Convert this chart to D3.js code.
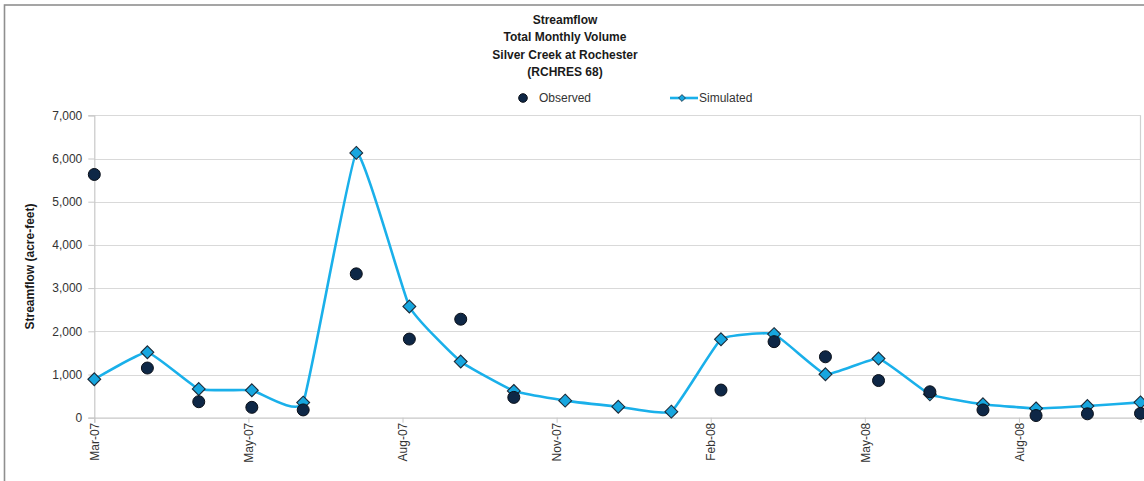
<!DOCTYPE html>
<html>
<head>
<meta charset="utf-8">
<script src="https://cdn.jsdelivr.net/npm/d3@7"></script>
<style>
  html, body { margin: 0; padding: 0; background: #fff; }
  svg { display: block; font-family: "Liberation Sans", Arial, sans-serif; }
</style>
</head>
<body>
<div id="chart"></div>
<script>
// Streamflow, total monthly volume — observed vs simulated
const titleLines = ["Streamflow", "Total Monthly Volume", "Silver Creek at Rochester", "(RCHRES 68)"];

const months = [
    "2007-03-01", "2007-04-01", "2007-05-01", "2007-06-01", "2007-07-01", "2007-08-01", "2007-09-01",
    "2007-10-01", "2007-11-01", "2007-12-01", "2008-01-01", "2008-02-01", "2008-03-01", "2008-04-01",
    "2008-05-01", "2008-06-01", "2008-07-01", "2008-08-01", "2008-09-01", "2008-10-01", "2008-11-01"
];
const observed = [
    5630, 1150, 370, 240, 180, 3330, 1820, 2280, 470, null, null, null, 640, 1760,
    1410, 860, 600, 180, 50, 90, 100
];
const simulated = [
    890, 1515, 665, 635, 350, 6130, 2575, 1300, 620, 395, 255, 140, 1815, 1935,
    1005, 1370, 540, 310, 215, 270, 355
];
// Excel date axis: major unit of 90 days from the first month
const xTickDates = ["2007-03-01", "2007-05-30", "2007-08-28", "2007-11-26", "2008-02-24", "2008-05-24", "2008-08-22"];
const yTicks = [0, 1000, 2000, 3000, 4000, 5000, 6000, 7000];

const W = 1144, H = 481;
const plot = { left: 94.3, right: 1140.5, top: 115.3, bottom: 417.7 };

const parse = d3.timeParse("%Y-%m-%d");
const rows = months.map((m, i) => ({ date: parse(m), obs: observed[i], sim: simulated[i] }));

const svg = d3.select("#chart").append("svg").attr("width", W).attr("height", H);

// outer chart border (clipped at right/bottom like the screenshot)
svg.append("rect")
    .attr("x", 4.5).attr("y", 5).attr("width", 1300).attr("height", 700)
    .attr("fill", "#fff").attr("stroke", "#8f8f8f").attr("stroke-width", 1.6);

const x = d3.scaleTime()
    .domain(d3.extent(rows, d => d.date))
    .range([plot.left, plot.right]);
const y = d3.scaleLinear().domain([0, 7000]).range([plot.bottom, plot.top]);

// ── Title ────────────────────────────────────────────────────────────────
svg.append("g").selectAll("text").data(titleLines).join("text")
    .attr("x", 565).attr("y", (d, i) => 24 + i * 17.3)
    .attr("text-anchor", "middle")
    .attr("font-size", 12).attr("font-weight", "bold").attr("fill", "#1a1a1a")
    .text(d => d);

// ── Gridlines ────────────────────────────────────────────────────────────
svg.append("g").selectAll("line").data(yTicks.filter(v => v > 0)).join("line")
    .attr("x1", plot.left).attr("x2", plot.right)
    .attr("y1", d => Math.round(y(d)) + 0.5).attr("y2", d => Math.round(y(d)) + 0.5)
    .attr("stroke", "#d9d9d9").attr("stroke-width", 1.2);

// right edge of plot area
svg.append("line")
    .attr("x1", plot.right).attr("x2", plot.right)
    .attr("y1", y(7000)).attr("y2", y(0))
    .attr("stroke", "#d0d0d0").attr("stroke-width", 1.2);

// ── Y axis ───────────────────────────────────────────────────────────────
const yAxis = svg.append("g")
    .attr("transform", `translate(${plot.left},0)`)
    .call(d3.axisLeft(y).tickValues(yTicks).tickSize(6).tickPadding(6).tickFormat(d3.format(",")));
yAxis.select(".domain").attr("stroke", "#c8c8c8").attr("stroke-width", 1.2);
yAxis.selectAll(".tick line").attr("stroke", "#c8c8c8");
yAxis.selectAll(".tick text").attr("font-size", 12).attr("fill", "#333")
    .attr("font-family", "Liberation Sans, Arial, sans-serif");

svg.append("text")
    .attr("transform", `translate(34,${(plot.top + plot.bottom) / 2}) rotate(-90)`)
    .attr("text-anchor", "middle")
    .attr("font-size", 12).attr("font-weight", "bold").attr("fill", "#1a1a1a")
    .text("Streamflow (acre-feet)");

// ── X axis ───────────────────────────────────────────────────────────────
const xAxis = svg.append("g")
    .attr("transform", `translate(0,${plot.bottom})`)
    .call(d3.axisBottom(x).tickValues(xTickDates.map(parse)).tickSize(5).tickFormat(d3.timeFormat("%b-%y")));
xAxis.select(".domain").attr("stroke", "#c8c8c8").attr("stroke-width", 1.2);
xAxis.selectAll(".tick line").attr("stroke", "#c8c8c8");
xAxis.selectAll(".tick text")
    .attr("font-size", 12).attr("fill", "#333")
    .attr("font-family", "Liberation Sans, Arial, sans-serif")
    .attr("text-anchor", "end")
    .attr("dy", "0.35em")
    .attr("transform", "translate(0,-3) rotate(-90)")
    .attr("x", -8).attr("y", 0);

// ── Simulated line + diamonds ────────────────────────────────────────────
// Excel "smoothed line": gentle bends, no big overshoot
const line = d3.line()
    .x(d => x(d.date)).y(d => y(d.sim))
    .curve(d3.curveCardinal.tension(0.65));

svg.append("path").datum(rows)
    .attr("fill", "none").attr("stroke", "#1ab0ea").attr("stroke-width", 2.6)
    .attr("d", line);

const diamond = d3.symbol().type(d3.symbolDiamond2).size(105);
svg.append("g").selectAll("path").data(rows).join("path")
    .attr("transform", d => `translate(${x(d.date)},${y(d.sim)})`)
    .attr("d", diamond)
    .attr("fill", "#17a6df").attr("stroke", "#1c2a38").attr("stroke-width", 1.1);

// ── Observed dots ────────────────────────────────────────────────────────
svg.append("g").selectAll("circle").data(rows.filter(d => d.obs != null)).join("circle")
    .attr("cx", d => x(d.date)).attr("cy", d => y(d.obs))
    .attr("r", 6)
    .attr("fill", "#0e2746").attr("stroke", "#0a0f18").attr("stroke-width", 1);

// ── Legend ───────────────────────────────────────────────────────────────
const lg = svg.append("g").attr("font-size", 12).attr("fill", "#333");
lg.append("circle").attr("cx", 523).attr("cy", 98).attr("r", 4.3)
    .attr("fill", "#0e2746").attr("stroke", "#0a0f18");
lg.append("text").attr("x", 539).attr("y", 102).text("Observed");
lg.append("line").attr("x1", 670).attr("x2", 698).attr("y1", 98).attr("y2", 98)
    .attr("stroke", "#1ab0ea").attr("stroke-width", 2.6);
lg.append("path").attr("transform", "translate(682,98)")
    .attr("d", d3.symbol().type(d3.symbolDiamond2).size(30))
    .attr("fill", "#17a6df").attr("stroke", "#1c2a38").attr("stroke-width", 0.8);
lg.append("text").attr("x", 699).attr("y", 102).text("Simulated");
</script>
</body>
</html>
